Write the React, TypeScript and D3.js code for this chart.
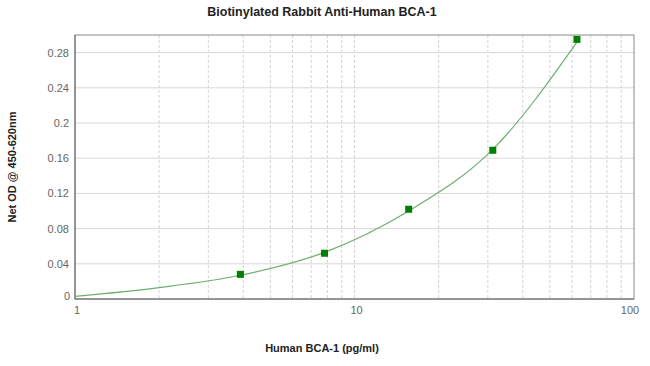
import { useRef, useEffect } from "react";
import * as d3 from "d3";

// standards (pg/ml) and measured OD
const concentrations = [3.906, 7.8125, 15.625, 31.25, 62.5];
const odValues = [0.028, 0.052, 0.102, 0.169, 0.295];

// fitted curve
const curveX = [1, 2, 3.906, 7.8125, 15.625, 31.25, 62.5];
const curveY = [0.003, 0.013, 0.027, 0.053, 0.1, 0.17, 0.292];

const yTicks = [0, 0.04, 0.08, 0.12, 0.16, 0.2, 0.24, 0.28];
const xTicks = [1, 10, 100];
const xMinor = [2, 3, 4, 5, 6, 7, 8, 9, 10, 20, 30, 40, 50, 60, 70, 80, 90];

const App = () => {
  const svgRef = useRef<SVGSVGElement>(null);

  useEffect(() => {
    const width = 650;
    const height = 366;
    const margin = { top: 35, left: 75, bottom: 67, right: 16 };
    const svg = d3.select(svgRef.current)
      .attr("width", width).attr("height", height)
      .style("font-family", "Arial, 'Liberation Sans', sans-serif");
    svg.selectAll("*").remove();

    const x = d3.scaleLog().domain([1, 100]).range([margin.left, width - margin.right]);
    const y = d3.scaleLinear().domain([0, 0.3]).range([height - margin.bottom, margin.top]);

    // vertical dashed grid
    svg.append("g")
      .selectAll("line")
      .data(xMinor)
      .join("line")
      .attr("x1", d => x(d)).attr("x2", d => x(d))
      .attr("y1", margin.top).attr("y2", height - margin.bottom)
      .attr("stroke", "#d4d4d4")
      .attr("stroke-dasharray", "3,2");

    // horizontal grid
    svg.append("g")
      .selectAll("line")
      .data(yTicks.slice(1))
      .join("line")
      .attr("x1", margin.left).attr("x2", width - margin.right)
      .attr("y1", d => y(d)).attr("y2", d => y(d))
      .attr("stroke", "#d8d8d8");

    // frame
    svg.append("rect")
      .attr("x", margin.left).attr("y", margin.top)
      .attr("width", width - margin.left - margin.right)
      .attr("height", height - margin.top - margin.bottom)
      .attr("fill", "none").attr("stroke", "#8a8a8a");

    svg.append("line")
      .attr("x1", margin.left).attr("x2", margin.left)
      .attr("y1", margin.top).attr("y2", height - margin.bottom)
      .attr("stroke", "#666");
    svg.append("line")
      .attr("x1", margin.left).attr("x2", width - margin.right)
      .attr("y1", height - margin.bottom).attr("y2", height - margin.bottom)
      .attr("stroke", "#666");

    // y tick labels
    svg.append("g")
      .selectAll("text")
      .data(yTicks)
      .join("text")
      .text(d => String(d))
      .attr("x", d => d === 0 ? margin.left - 5 : margin.left - 6)
      .attr("y", d => d === 0 ? y(d) + 1 : y(d) + 4)
      .attr("text-anchor", "end")
      .attr("fill", "#666")
      .style("font-size", "11px");

    // x tick labels
    svg.append("g")
      .selectAll("text")
      .data(xTicks)
      .join("text")
      .text(d => String(d))
      .attr("x", d => d === 100 ? x(d) - 4 : x(d) + 2)
      .attr("y", height - margin.bottom + 15)
      .attr("text-anchor", "middle")
      .attr("fill", "#666")
      .style("font-size", "11px");

    // fitted curve
    const line = d3.line<number>()
      .x((d, i) => x(curveX[i]))
      .y(d => y(d))
      .curve(d3.curveMonotoneX);
    svg.append("path")
      .attr("d", line(curveY))
      .attr("fill", "none")
      .attr("stroke", "#6fae6f")
      .attr("stroke-width", 1.2);

    // points
    svg.append("g")
      .selectAll("rect")
      .data(odValues)
      .join("rect")
      .attr("x", (d, i) => x(concentrations[i]) - 3.5)
      .attr("y", d => y(d) - 3.5)
      .attr("width", 7).attr("height", 7)
      .attr("fill", "#008000");

    // titles
    svg.append("text")
      .text("Biotinylated Rabbit Anti-Human BCA-1")
      .attr("x", 322).attr("y", 16)
      .attr("text-anchor", "middle")
      .attr("fill", "#222")
      .style("font-size", "12.5px").style("font-weight", "bold");

    svg.append("text")
      .text("Human BCA-1 (pg/ml)")
      .attr("x", 322).attr("y", 352)
      .attr("text-anchor", "middle")
      .attr("fill", "#222")
      .style("font-size", "11px").style("font-weight", "bold");

    svg.append("text")
      .text("Net OD @ 450-620nm")
      .attr("transform", `translate(16, ${(margin.top + height - margin.bottom) / 2}) rotate(-90)`)
      .attr("text-anchor", "middle")
      .attr("fill", "#222")
      .style("font-size", "11px").style("font-weight", "bold");
  }, []);

  return <svg ref={svgRef} style={{ position: "absolute", left: 0, top: 0 }}></svg>;
};

export default App;
